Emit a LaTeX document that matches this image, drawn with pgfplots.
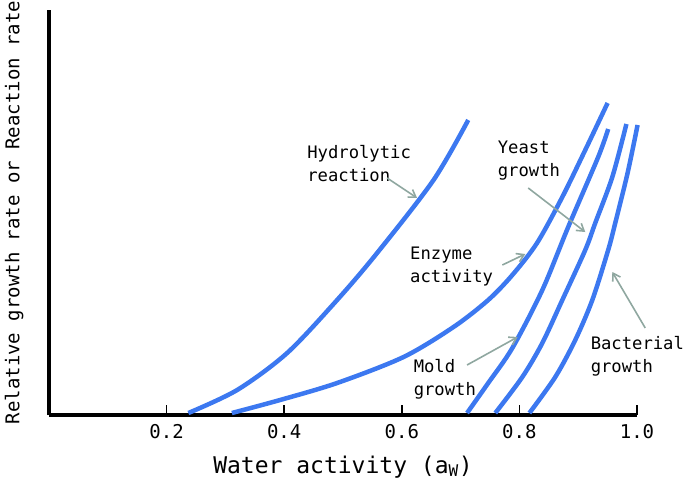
\documentclass[border=0pt]{standalone}
\usepackage{pgfplots}
\pgfplotsset{compat=1.18}
\usepackage{fontspec}
\setmainfont{DejaVu Sans Mono}
\usetikzlibrary{arrows.meta}
\definecolor{curve}{HTML}{3C78F0}
\definecolor{pointer}{HTML}{8FA7A0}
\tikzset{
    annot/.style={font=\fontsize{17.2}{23}\selectfont, align=left, anchor=west, inner sep=0pt},
    pt/.style={pointer, line width=1.6pt, -{Straight Barb[length=7pt, width=9pt]}},
    wcurve/.style={curve, line width=4.5pt, smooth, mark=none},
}

\begin{document}
\begin{tikzpicture}
\begin{axis}[
    scale only axis,
    width=588pt, height=405pt,
    xmin=0, xmax=1.0,
    ymin=0, ymax=405,
    axis x line=bottom,
    axis y line=left,
    axis line style={line width=4pt, -},
    xtick={0.2,0.4,0.6,0.8,1.0},
    xticklabels={0.2,0.4,0.6,0.8,1.0},
    ytick=\empty,
    tick align=inside,
    major tick length=10pt,
    every tick/.style={black, line width=1.5pt},
    xticklabel style={font=\fontsize{19}{22}\selectfont, yshift=-6pt},
    xlabel={Water activity (a\textsubscript{W})},
    xlabel style={font=\fontsize{23}{26}\selectfont, yshift=-10pt},
    ylabel={Relative growth rate or Reaction rate},
    ylabel style={font=\fontsize{19}{22}\selectfont, yshift=22pt},
    clip=false,
]
% Hydrolytic reaction
\addplot[wcurve] coordinates {(0.237,2) (0.320,25) (0.405,62) (0.490,115) (0.558,162) (0.654,235) (0.713,295)};
% Enzyme activity
\addplot[wcurve] coordinates {(0.311,2) (0.393,15) (0.490,32) (0.603,58) (0.688,88) (0.747,115) (0.788,140) (0.830,172) (0.873,218) (0.912,265) (0.950,312)};
% Mold growth
\addplot[wcurve] coordinates {(0.711,2) (0.747,32) (0.788,67) (0.839,125) (0.883,188) (0.934,258) (0.951,286)};
% Yeast growth
\addplot[wcurve] coordinates {(0.759,2) (0.805,38) (0.839,72) (0.873,115) (0.912,165) (0.929,192) (0.958,238) (0.982,291)};
% Bacterial growth
\addplot[wcurve] coordinates {(0.817,2) (0.861,38) (0.895,75) (0.924,115) (0.951,165) (0.963,192) (0.984,242) (1.001,290)};

\node[annot] at (axis cs:0.439,251.5) {Hydrolytic\\reaction};
\node[annot] at (axis cs:0.614,148.5) {Enzyme\\activity};
\node[annot] at (axis cs:0.763,254) {Yeast\\growth};
\node[annot] at (axis cs:0.620,35.5) {Mold\\growth};
\node[annot] at (axis cs:0.921,58.5) {Bacterial\\growth};

\draw[pt] (axis cs:0.575,237) -- (axis cs:0.626,217);
\draw[pt] (axis cs:0.771,150) -- (axis cs:0.810,161);
\draw[pt] (axis cs:0.815,227) -- (axis cs:0.912,183);
\draw[pt] (axis cs:0.711,50) -- (axis cs:0.797,78);
\draw[pt] (axis cs:1.014,87) -- (axis cs:0.958,143);
\end{axis}
\pgfresetboundingbox
\path (-49pt,-65pt) rectangle (636pt,415pt);
\end{tikzpicture}
\end{document}
